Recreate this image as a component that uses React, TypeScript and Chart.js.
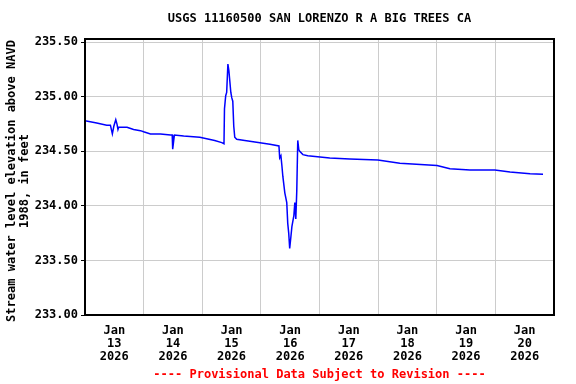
import React, { useEffect, useRef } from 'react';
import { Chart, registerables } from 'chart.js';

Chart.register(...registerables);

const TITLE = 'USGS 11160500 SAN LORENZO R A BIG TREES CA';
const FOOTER = '---- Provisional Data Subject to Revision ----';
const Y_TITLE = ['Stream water level elevation above NAVD', '1988, in feet'];

const dayLabels = ['13', '14', '15', '16', '17', '18', '19', '20'];
const monthLabel = 'Jan';
const yearLabel = '2026';
const yTicks = [233.0, 233.5, 234.0, 234.5, 235.0, 235.5];

// hours since Jan 13 2026 00:00
const hours = [
  0, 4.8, 8.9, 10.4, 11.2, 11.8, 12.6, 13.1, 13.5, 13.8, 17.2, 19.9, 22.7, 24.0,
  26.8, 30.9, 35.0, 35.7, 35.9, 36.6, 40.4, 47.0, 53.1, 56.0, 56.9, 57.1, 57.6,
  58.0, 58.5, 58.9, 59.3, 59.7, 60.1, 60.5, 60.9, 61.3, 62.1, 65.4, 71.6, 75.7,
  79.4, 79.7, 80.2, 80.6, 81.0, 81.8, 82.6, 83.0, 83.4, 83.8, 84.3, 84.7, 85.5,
  85.9, 86.3, 86.7, 87.1, 87.5, 87.9, 89.2, 91.2, 100.2, 108.4, 119.9, 128.9,
  144.1, 149.4, 157.6, 167.8, 174.0, 182.2, 187.5,
];
const levels = [
  234.78, 234.76, 234.74, 234.74, 234.66, 234.73, 234.79, 234.75, 234.70, 234.72,
  234.72, 234.70, 234.69, 234.68, 234.66, 234.66, 234.65, 234.65, 234.52, 234.65,
  234.64, 234.63, 234.60, 234.58, 234.57, 234.89, 235.01, 235.04, 235.30, 235.24,
  235.14, 235.04, 234.99, 234.96, 234.73, 234.63, 234.61, 234.60, 234.58, 234.565,
  234.55, 234.44, 234.46, 234.37, 234.27, 234.12, 234.03, 233.84, 233.75, 233.61,
  233.72, 233.81, 233.91, 234.03, 233.88, 234.14, 234.60, 234.52, 234.50, 234.47,
  234.46, 234.44, 234.43, 234.42, 234.39, 234.37, 234.34, 234.33, 234.33, 234.31,
  234.295, 234.29,
];

const FONT = "'DejaVu Sans Mono', monospace";

const decorPlugin = {
  id: 'decor',
  afterDraw(chart: any) {
    const { ctx, chartArea: a } = chart;
    ctx.save();
    ctx.strokeStyle = '#000';
    ctx.lineWidth = 2;
    ctx.strokeRect(a.left, a.top, a.right - a.left, a.bottom - a.top);
    ctx.font = `bold 12px ${FONT}`;
    ctx.textAlign = 'center';
    ctx.textBaseline = 'middle';
    const cx = (a.left + a.right) / 2;
    ctx.fillStyle = '#000';
    ctx.fillText(TITLE, cx, 19);
    ctx.fillStyle = '#ff0000';
    ctx.fillText(FOOTER, cx, 375);
    ctx.fillStyle = '#000';
    ctx.translate(12, 181);
    ctx.rotate(-Math.PI / 2);
    ctx.fillText(Y_TITLE[0], 0, 0);
    ctx.fillText(Y_TITLE[1], 0, 13);
    ctx.restore();
  },
};

export default function App() {
  const ref = useRef<HTMLCanvasElement>(null);
  useEffect(() => {
    if (!ref.current) return;
    const points = hours.map((h, i) => ({ x: h, y: levels[i] }));
    const chart = new Chart(ref.current, {
      type: 'line',
      data: {
        datasets: [
          {
            data: points,
            borderColor: '#0000ff',
            borderWidth: 1.5,
            pointRadius: 0,
            tension: 0,
            fill: false,
          },
        ],
      },
      options: {
        animation: false,
        responsive: true,
        maintainAspectRatio: false,
        layout: { padding: { top: 39, right: 22, bottom: 19, left: 0 } },
        plugins: { legend: { display: false }, tooltip: { enabled: false }, title: { display: false } },
        scales: {
          x: {
            type: 'linear',
            min: 0,
            max: 192,
            afterBuildTicks: (scale: any) => {
              const t: any[] = [];
              for (let v = 0; v <= 192; v += 12) t.push({ value: v });
              scale.ticks = t;
            },
            afterFit: (scale: any) => {
              scale.height = 50;
            },
            grid: {
              color: (c: any) => (c.tick && c.tick.value % 24 === 0 ? '#cccccc' : 'rgba(0,0,0,0)'),
              lineWidth: 1,
              drawTicks: false,
            },
            border: { display: false },
            ticks: {
              autoSkip: false,
              maxRotation: 0,
              minRotation: 0,
              padding: 9,
              color: '#000',
              font: { family: FONT, size: 12, weight: 'bold', lineHeight: 1.1 },
              callback: (v: any) => {
                const n = Number(v);
                if (n % 24 === 12) {
                  const idx = Math.floor(n / 24);
                  return [monthLabel, dayLabels[idx], yearLabel];
                }
                return '';
              },
            },
          },
          y: {
            type: 'linear',
            min: 233.0,
            max: 235.53,
            afterBuildTicks: (scale: any) => {
              scale.ticks = yTicks.map((v) => ({ value: v }));
            },
            afterFit: (scale: any) => {
              scale.width = 85;
            },
            grid: {
              color: '#cccccc',
              lineWidth: 1,
              drawTicks: true,
              tickLength: 4,
              tickColor: '#000',
            },
            border: { display: false },
            ticks: {
              padding: 3,
              color: '#000',
              font: { family: FONT, size: 12, weight: 'bold' },
              callback: (v: any) => Number(v).toFixed(2),
            },
          },
        },
      },
      plugins: [decorPlugin],
    });
    return () => chart.destroy();
  }, []);
  return (
    <div style={{ position: 'fixed', left: 0, top: 0, width: 576, height: 384, background: '#fff' }}>
      <canvas ref={ref} />
    </div>
  );
}
